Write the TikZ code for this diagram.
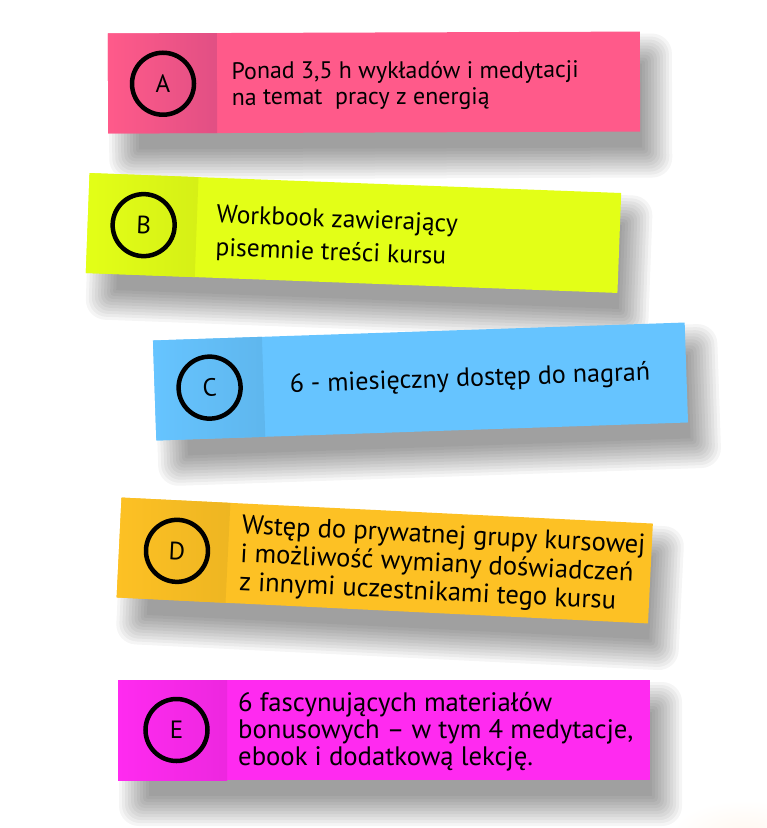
\documentclass[tikz,border=0pt]{standalone}
\usepackage{fontspec}
\setmainfont{PT Sans}
\usetikzlibrary{positioning}
\definecolor{notePink}{RGB}{255,90,138}
\definecolor{noteLime}{RGB}{227,255,23}
\definecolor{noteSky}{RGB}{102,196,255}
\definecolor{noteAmber}{RGB}{253,193,36}
\definecolor{noteMagenta}{RGB}{255,42,240}

\begin{document}
\begin{tikzpicture}[x=1pt,y=-1pt,
    note/.style={minimum width=532pt, minimum height=100pt, inner sep=0pt},
    haze/.style={black, opacity=0.04},
    badge/.style={circle, draw, line width=4.5pt, minimum size=62pt, inner sep=0pt,
      font=\fontsize{25}{25}\selectfont},
    info/.style={anchor=west, align=left, inner sep=0pt}
  ]
  \fill[white] (0,0) rectangle (767,828);
  \useasboundingbox (0,0) rectangle (767,828);
  \shade[inner color=orange!6, outer color=white] (745,835) ellipse (75 and 35);

  % A
  \begin{scope}[shift={(374,82.5)}, rotate=0.2, transform shape]
    \foreach \k in {0,...,10}
      \fill[haze, rounded corners=2*\k] ({-235-3*\k},{-18-3*\k}) rectangle ({268+3*\k},{66+3*\k});
    \node[note, fill=notePink] (a) at (0,0) {};
    \shade[left color=notePink, right color=notePink!92!black!96!blue] (-266,-50) rectangle (-157,50);
    \node[badge] (a-mark) at (-211,0.5) {A};
    \node[info, font=\fontsize{23.9}{26}\selectfont] (a-text) at (-142.5,3)
      {Ponad 3,5 h wykładów i medytacji\\na temat\ \ pracy z energią};
  \end{scope}

  % B
  \begin{scope}[shift={(353.5,233)}, rotate=-2.15, transform shape]
    \foreach \k in {0,...,10}
      \fill[haze, rounded corners=2*\k] ({-235-3*\k},{-18-3*\k}) rectangle ({268+3*\k},{66+3*\k});
    \node[note, fill=noteLime] (b) at (0,0) {};
    \shade[left color=noteLime, right color=noteLime!94!black] (-266,-50) rectangle (-157,50);
    \node[badge] (b-mark) at (-210,0) {B};
    \node[info, font=\fontsize{25.5}{33}\selectfont] (b-text) at (-137.5,5)
      {Workbook zawierający\\pisemnie treści kursu};
  \end{scope}

  % C
  \begin{scope}[shift={(420.5,381.5)}, rotate=1.94, transform shape]
    \foreach \k in {0,...,10}
      \fill[haze, rounded corners=2*\k] ({-235-3*\k},{-18-3*\k}) rectangle ({268+3*\k},{66+3*\k});
    \node[note, fill=noteSky] (c) at (0,0) {};
    \shade[left color=noteSky, right color=noteSky!93!black] (-266,-50) rectangle (-157,50);
    \node[badge] (c-mark) at (-211,-1) {C};
    \node[info, font=\fontsize{26.1}{28}\selectfont] (c-text) at (-131,0)
      {6 - miesięczny dostęp do nagrań};
  \end{scope}

  % D
  \begin{scope}[shift={(384.75,560.5)}, rotate=-2.8, transform shape]
    \foreach \k in {0,...,10}
      \fill[haze, rounded corners=2*\k] ({-235-3*\k},{-18-3*\k}) rectangle ({268+3*\k},{66+3*\k});
    \node[note, fill=noteAmber] (d) at (0,0) {};
    \shade[left color=noteAmber, right color=noteAmber!94!black] (-266,-50) rectangle (-157,50);
    \node[badge] (d-mark) at (-208,0.5) {D};
    \node[info, font=\fontsize{26.6}{28.6}\selectfont] (d-text) at (-144.5,2)
      {Wstęp do prywatnej grupy kursowej\\i możliwość wymiany doświadczeń\\z innymi uczestnikami tego kursu};
  \end{scope}

  % E
  \begin{scope}[shift={(384,730)}, transform shape]
    \foreach \k in {0,...,10}
      \fill[haze, rounded corners=2*\k] ({-235-3*\k},{-18-3*\k}) rectangle ({268+3*\k},{66+3*\k});
    \node[note, fill=noteMagenta] (e) at (0,0) {};
    \shade[left color=noteMagenta, right color=noteMagenta!93!black] (-266,-50) rectangle (-157,50);
    \node[badge] (e-mark) at (-207.5,0) {E};
    \node[info, font=\fontsize{26.7}{27}\selectfont] (e-text) at (-146,2)
      {6 fascynujących materiałów\\bonusowych – w tym 4 medytacje,\\ebook i dodatkową lekcję.};
  \end{scope}
\end{tikzpicture}
\end{document}
